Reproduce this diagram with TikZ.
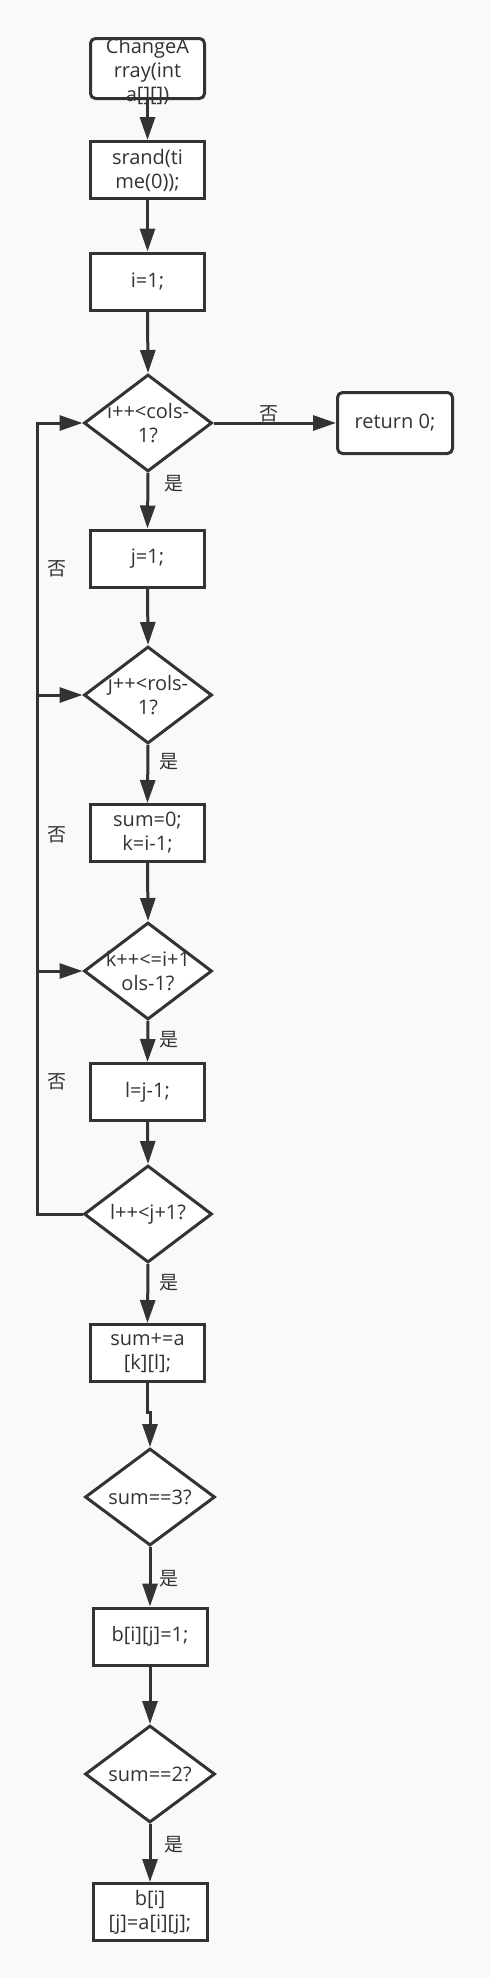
\documentclass[tikz,border=0pt]{standalone}
\usepackage{fontspec}
\setmainfont{Open Sans}
\newfontfamily\cjk{Noto Sans CJK SC}
\usetikzlibrary{arrows.meta,shapes.geometric}
\definecolor{ink}{HTML}{333333}
\definecolor{paper}{HTML}{F9F9F9}

\begin{document}
\begin{tikzpicture}[x=1pt, y=-1pt,
  every node/.style={text=ink, font=\fontsize{20}{24}\selectfont},
  stepbox/.style={draw=ink, line width=3pt, fill=white, minimum width=114pt, minimum height=57pt, align=center, inner sep=2pt},
  endbox/.style={stepbox, rounded corners=5pt},
  decision/.style={draw=ink, line width=3pt, fill=white, diamond, minimum width=128pt, minimum height=97pt, inner sep=0pt},
  dtext/.style={align=center},
  flow/.style={draw=ink, line width=3pt, -{Triangle[length=23pt,width=15pt]}},
  yes/.style={font=\cjk\fontsize{19}{22}\selectfont}]
\fill[paper] (0,0) rectangle (491,1978);
\useasboundingbox (0,0) rectangle (491,1978);
% main column
\node[endbox, minimum height=60pt, label={[dtext, yshift=-3pt]center:{ChangeA\\rray(int\\a[][])}}] (start) at (147.5,68.5) {};
\node[stepbox] (srand) at (147.5,170) {srand(ti\\me(0));};
\node[stepbox] (iinit) at (147.5,281.5) {i=1;};
\node[decision, label={[dtext]center:{i++<cols-\\1?}}] (rowtest) at (148,423) {};
\node[endbox, minimum width=115pt, minimum height=61pt] (ret) at (395,423) {return 0;};
\node[stepbox] (jinit) at (147.5,558.5) {j=1;};
\node[decision, label={[dtext]center:{j++<rols-\\1?}}] (coltest) at (148,695) {};
\node[stepbox] (suminit) at (147.5,833) {sum=0;\\k=i-1;};
\node[decision, label={[dtext]center:{k++<=i+1\\ols-1?}}] (ktest) at (148,971) {};
\node[stepbox] (linit) at (147.5,1092) {l=j-1;};
\node[decision, label={[dtext]center:{l++<j+1?}}] (ltest) at (148,1214) {};
\node[stepbox] (sumadd) at (147.5,1353) {sum+=a\\{}[k][l];};
\node[decision, minimum width=130pt, label={[dtext]center:{sum==3?}}] (eqthree) at (150,1497) {};
\node[stepbox] (setone) at (150,1636.5) {b[i][j]=1;};
\node[decision, minimum width=130pt, label={[dtext]center:{sum==2?}}] (eqtwo) at (150,1774) {};
\node[stepbox] (keep) at (150,1912) {b[i]\\{}[j]=a[i][j];};
% connectors
\draw[flow] (start.south) -- (srand.north);
\draw[flow] (srand.south) -- (iinit.north);
\draw[flow] (iinit.south) -- (rowtest.north);
\draw[flow] (rowtest.east) -- (ret.west);
\draw[flow] (rowtest.south) -- (jinit.north);
\draw[flow] (jinit.south) -- (coltest.north);
\draw[flow] (coltest.south) -- (suminit.north);
\draw[flow] (suminit.south) -- (ktest.north);
\draw[flow] (ktest.south) -- (linit.north);
\draw[flow] (linit.south) -- (ltest.north);
\draw[flow] (ltest.south) -- (sumadd.north);
\draw[flow] (sumadd.south) -- ++(0,29) -| (eqthree.north);
\draw[flow] (eqthree.south) -- (setone.north);
\draw[flow] (setone.south) -- (eqtwo.north);
\draw[flow] (eqtwo.south) -- (keep.north);
% loop back on the left
\coordinate (loop) at (37,1214);
\draw[flow] (ltest.west) -- (loop) |- (rowtest.west);
\draw[flow] (loop |- coltest.west) -- (coltest.west);
\draw[flow] (loop |- ktest.west) -- (ktest.west);
% branch labels
\node[yes] (noret) at (269,414) {否};
\node[yes] (nocol) at (57,569) {否};
\node[yes] (nok) at (57,835) {否};
\node[yes] (nol) at (57,1082) {否};
\node[yes] (yesrow) at (174,484) {是};
\node[yes] (yescol) at (169,762) {是};
\node[yes] (yesk) at (169,1040) {是};
\node[yes] (yesl) at (169,1283) {是};
\node[yes] (yesthree) at (169,1579) {是};
\node[yes] (yestwo) at (174,1845) {是};
\end{tikzpicture}
\end{document}
